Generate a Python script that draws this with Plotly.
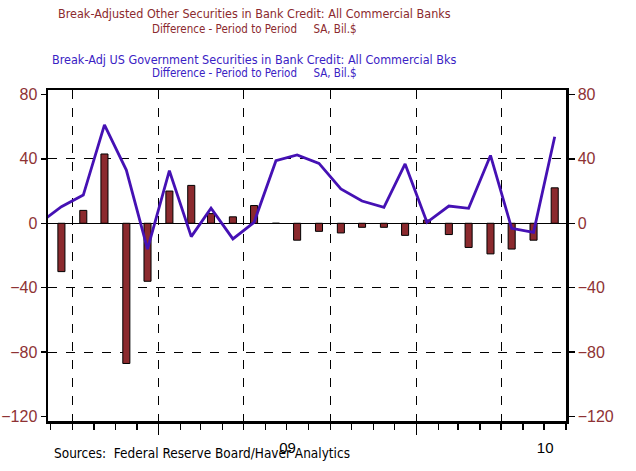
import plotly.graph_objects as go

# ---- data ----
bar_months = ["2008-08", "2008-09", "2008-10", "2008-11", "2008-12",
              "2009-01", "2009-02", "2009-03", "2009-04", "2009-05", "2009-06",
              "2009-07", "2009-08", "2009-09", "2009-10", "2009-11", "2009-12",
              "2010-01", "2010-02", "2010-03", "2010-04", "2010-05", "2010-06", "2010-07"]
other_securities = [-30, 8, 43, -87, -36,
                    20, 23.5, 6, 4, 11, 0,
                    -10.5, -5, -6, -2.5, -2.5, -7.5,
                    2, -7, -15, -19, -16, -10.5, 22]

line_months = ["2008-07"] + bar_months
us_gov_securities = [0, 10.3, 17.5, 61, 33, -16,
                     32.6, -8.3, 9.3, -9.7, 0.6, 38.8,
                     42.4, 37.2, 21.3, 13.8, 9.9, 36.8,
                     0.6, 10.7, 9.3, 42.1, -3.1, -5.6, 53.7]

y_ticks = [-120, -80, -40, 0, 40, 80]
y_grid = [-80, -40, 40]

bar_x = [m + "-16" for m in bar_months]
line_x = [m + "-16" for m in line_months]

RED = "#8B2A2E"
TICKRED = "#8E3234"
BLUE = "#4511B4"
TITLEBLUE = "#3A22C4"
NARROW = "Liberation Sans Narrow, Arial Narrow, DejaVu Sans Condensed, sans-serif"
ARIAL = "Liberation Sans, Arial, sans-serif"

x_range = ["2008-07-28", "2010-08-01"]
y_range = [-122.7, 82.7]

fig = go.Figure()
fig.add_trace(go.Bar(x=bar_x, y=other_securities, marker=dict(color=RED, line=dict(color="black", width=1)),
                     width=10 * 86400000, hoverinfo="skip"))
fig.add_trace(go.Scatter(x=line_x, y=us_gov_securities, mode="lines",
                         line=dict(color=BLUE, width=2.8), hoverinfo="skip"))
# invisible helpers so the overlay axes are drawn
fig.add_trace(go.Scatter(x=line_x, y=us_gov_securities, mode="lines", opacity=0,
                         xaxis="x2", yaxis="y2", hoverinfo="skip"))
fig.add_trace(go.Scatter(x=line_x, y=us_gov_securities, mode="lines", opacity=0,
                         xaxis="x", yaxis="y3", hoverinfo="skip"))

fig.update_layout(
    width=636, height=471,
    margin=dict(l=48, r=70, t=90, b=50),
    paper_bgcolor="white", plot_bgcolor="white",
    showlegend=False,
    bargap=0,
    hovermode=False,
    xaxis=dict(type="date", range=x_range, dtick="M4", tick0="2008-09-01", automargin=False,
               showgrid=True, gridcolor="black", griddash="dash", gridwidth=1,
               ticks="outside", ticklen=6, tickwidth=1.3, tickcolor="black",
               showticklabels=False,
               minor=dict(dtick="M1", tick0="2008-08-01", ticks="outside", ticklen=6,
                          tickwidth=1.3, tickcolor="black", showgrid=False),
               showline=True, linecolor="black", linewidth=2.5, mirror=True,
               zeroline=False),
    xaxis2=dict(type="date", range=x_range, overlaying="x", side="bottom", anchor="y",
                automargin=False,
                dtick="M12", tick0="2009-01-01", ticklabelmode="period", tickformat="%y",
                ticks="outside", ticklen=13, tickwidth=1.3, tickcolor="black",
                showgrid=False, showline=False, zeroline=False,
                tickfont=dict(family=ARIAL, size=15, color="black")),
    yaxis=dict(range=y_range, tickvals=y_ticks, showgrid=False, automargin=False,
               zeroline=True, zerolinecolor="black", zerolinewidth=1.5,
               ticks="outside", ticklen=5, tickwidth=1.5, tickcolor="black",
               showline=True, linecolor="black", linewidth=2.5,
               tickfont=dict(family=ARIAL, size=16, color=TICKRED)),
    yaxis2=dict(range=y_range, tickvals=y_ticks, overlaying="y", side="right", anchor="x",
                automargin=False, showgrid=False, zeroline=False,
                ticks="outside", ticklen=6, tickwidth=1.5, tickcolor="black",
                showline=True, linecolor="black", linewidth=2.5,
                tickfont=dict(family=ARIAL, size=16, color=TICKRED)),
    yaxis3=dict(range=y_range, tickvals=y_grid, overlaying="y", side="left", automargin=False,
                showgrid=True, gridcolor="black", griddash="dash", gridwidth=1,
                showticklabels=False, ticks="", showline=False, zeroline=False),
)

def ann(text, xp, ypx, size, color, family=NARROW, xanchor="center"):
    fig.add_annotation(text=text, xref="paper", yref="paper",
                       x=(xp - 48) / 518, y=(421 - ypx) / 331,
                       xanchor=xanchor, yanchor="middle", showarrow=False,
                       font=dict(family=family, size=size, color=color))

sp = "\u00a0"
ann("Break-Adjusted Other Securities in Bank Credit: All Commercial Banks", 254, 13.5, 12.5, RED)
ann("Difference - Period to Period" + sp * 5 + "SA, Bil.$", 254, 29.5, 11.5, RED)
ann("Break-Adj US Government Securities in Bank Credit: All Commercial Bks", 254, 59.5, 12.5, TITLEBLUE)
ann("Difference - Period to Period" + sp * 5 + "SA, Bil.$", 254, 72.5, 11.5, TITLEBLUE)
ann("Sources:" + sp * 2 + "Federal Reserve Board/Haver Analytics", 52, 453, 13.5, "black", xanchor="left")

fig.write_html("out.html", config={"displayModeBar": False, "staticPlot": True},
               post_script="document.body.style.margin='0';document.body.style.overflow='hidden';")
